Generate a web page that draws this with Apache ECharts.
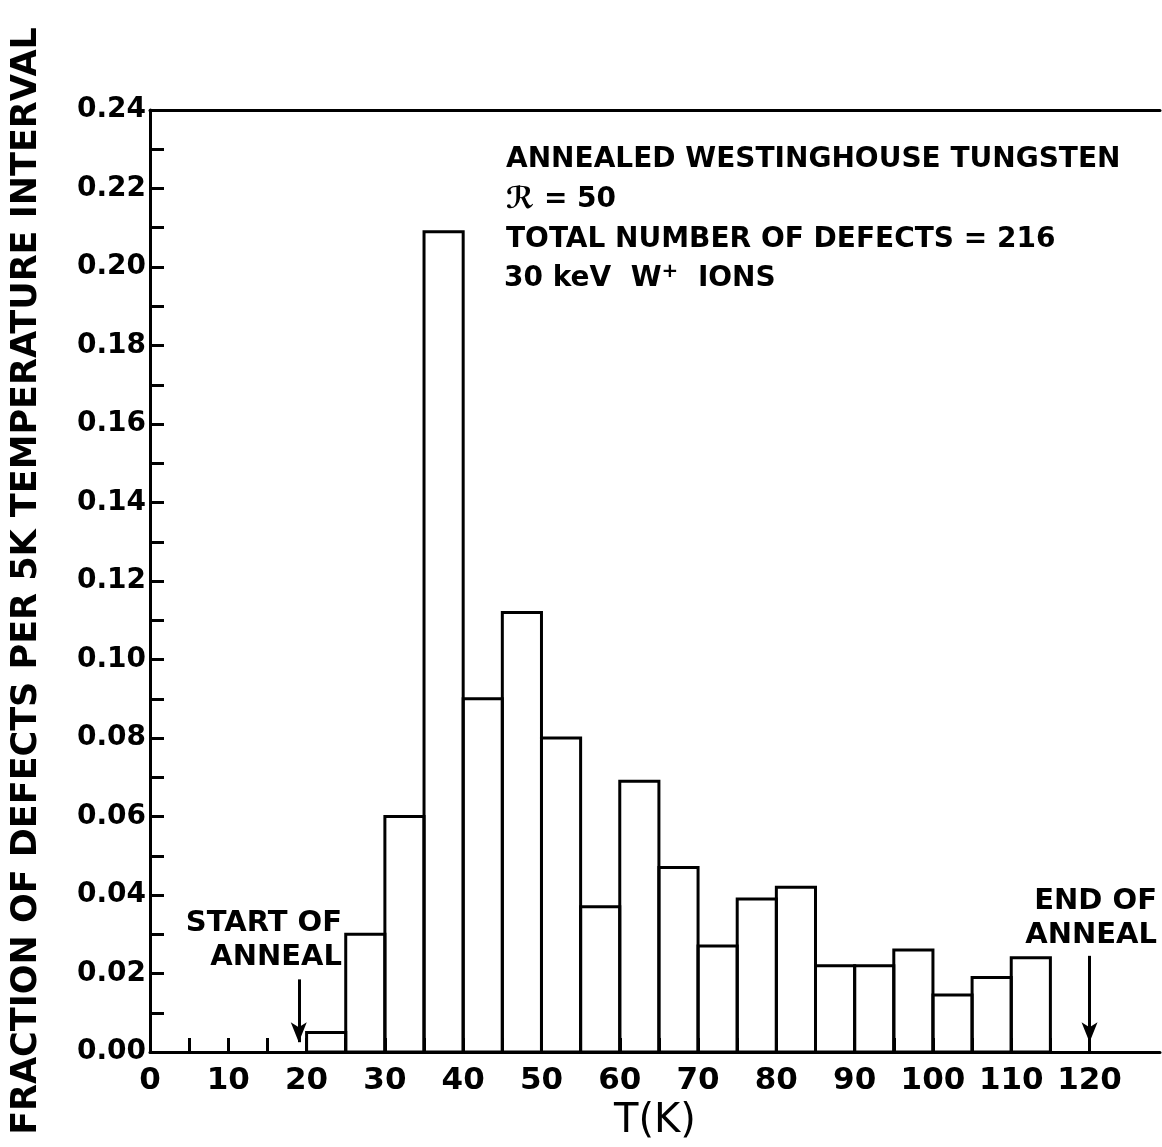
<!DOCTYPE html>
<html>
<head>
<meta charset="utf-8">
<script src="https://cdn.jsdelivr.net/npm/echarts@6/dist/echarts.min.js"></script>
<style>
  html, body { margin: 0; padding: 0; background: #fff; }
  #chart { width: 1162px; height: 1147px; }
</style>
</head>
<body>
<div id="chart"></div>
<script>
// 5 K bins, left edge of each bin (K)
const binStarts = [20, 25, 30, 35, 40, 45, 50, 55, 60, 65, 70, 75, 80, 85, 90, 95, 100, 105, 110];
const binWidth = 5;
// fraction of defects recovering in each bin
const fractions = [0.005, 0.030, 0.060, 0.209, 0.090, 0.112, 0.080, 0.037, 0.069, 0.047,
                   0.027, 0.039, 0.042, 0.022, 0.022, 0.026, 0.0145, 0.019, 0.024];
const xTickValues = [0, 5, 10, 15, 20, 25, 30, 35, 40, 45, 50, 55, 60, 65, 70, 75, 80, 85, 90, 95, 100, 105, 110, 115, 120];
const xLabelValues = [0, 10, 20, 30, 40, 50, 60, 70, 80, 90, 100, 110, 120];
const yTicks = ['0.00', '0.02', '0.04', '0.06', '0.08', '0.10', '0.12', '0.14', '0.16', '0.18', '0.20', '0.22', '0.24'];
const startAnneal = 19;
const endAnneal = 120;

const FONT = 'DejaVu Sans';
const INK = '#000';

const bins = binStarts.map((s, i) => [s, s + binWidth, fractions[i]]);

const chart = echarts.init(document.getElementById('chart'));

const tickStyle = { color: INK, width: 3 };

chart.setOption({
  backgroundColor: '#fff',
  animation: false,
  grid: { left: 150, top: 110, right: 2, bottom: 94 },
  xAxis: [{
    type: 'value',
    min: 0, max: 129,
    name: 'T(K)',
    nameLocation: 'middle',
    nameGap: 50,
    nameTextStyle: { fontFamily: FONT, fontSize: 40, color: INK },
    axisLine: { lineStyle: { color: INK, width: 3 } },
    axisTick: { show: true, inside: true, length: 14, lineStyle: tickStyle, customValues: xTickValues },
    splitLine: { show: false },
    axisLabel: {
      fontFamily: FONT, fontSize: 31, fontWeight: 'bold', color: INK, margin: 13,
      customValues: xLabelValues
    }
  }, {
    // top frame line only
    type: 'value', position: 'top', min: 0, max: 129,
    axisLine: { show: true, lineStyle: { color: INK, width: 3 } },
    axisTick: { show: false }, axisLabel: { show: false }, splitLine: { show: false }
  }],
  yAxis: {
    type: 'value',
    min: 0, max: 0.24, interval: 0.02,
    name: 'FRACTION OF DEFECTS PER 5K TEMPERATURE INTERVAL',
    nameLocation: 'middle',
    nameGap: 106,
    nameTextStyle: { fontFamily: FONT, fontSize: 35, fontWeight: 'bold', color: INK },
    axisLine: { show: true, lineStyle: { color: INK, width: 3 } },
    axisTick: { show: true, inside: true, length: 14, lineStyle: tickStyle },
    minorTick: { show: true, splitNumber: 2, length: 14, lineStyle: tickStyle },
    splitLine: { show: false },
    axisLabel: {
      fontFamily: FONT, fontSize: 28, fontWeight: 'bold', color: INK, margin: 4,
      formatter: v => yTicks[Math.round(v / 0.02)]
    }
  },
  series: [{
    type: 'custom',
    data: bins,
    encode: { x: [0, 1], y: 2 },
    renderItem: (params, api) => {
      const p0 = api.coord([api.value(0), 0]);
      const p1 = api.coord([api.value(1), api.value(2)]);
      return {
        type: 'rect',
        shape: { x: p0[0], y: p1[1], width: p1[0] - p0[0], height: p0[1] - p1[1] },
        style: { fill: 'none', stroke: INK, lineWidth: 3 }
      };
    },
    markLine: {
      silent: true,
      symbol: ['none', 'arrow'],
      symbolSize: [12, 20],
      label: { show: false },
      lineStyle: { color: INK, width: 3, type: 'solid' },
      data: [
        [{ coord: [startAnneal, 0.0185] }, { coord: [startAnneal, 0.0025] }],
        [{ coord: [endAnneal, 0.0245] }, { coord: [endAnneal, 0.0025] }]
      ]
    }
  }],
  graphic: [
    {
      type: 'text', x: 506, y: 146,
      style: {
        text: 'ANNEALED WESTINGHOUSE TUNGSTEN',
        font: 'bold 28px "DejaVu Sans"', fill: INK
      }
    },
    {
      type: 'text', x: 506, y: 185,
      style: {
        text: '{r|ℛ}{n| = 50}',
        rich: {
          r: { fontFamily: FONT, fontSize: 30, fontWeight: 'bold', fontStyle: 'italic', color: INK },
          n: { fontFamily: FONT, fontSize: 28, fontWeight: 'bold', color: INK }
        }
      }
    },
    {
      type: 'text', x: 506, y: 226,
      style: {
        text: 'TOTAL NUMBER OF DEFECTS = 216',
        font: 'bold 28px "DejaVu Sans"', fill: INK
      }
    },
    {
      type: 'text', x: 504, y: 262,
      style: {
        text: '{n|30 keV  W}{s|+}{n|  IONS}',
        rich: {
          n: { fontFamily: FONT, fontSize: 28, fontWeight: 'bold', color: INK },
          s: { fontFamily: FONT, fontSize: 20, fontWeight: 'bold', color: INK, verticalAlign: 'top', padding: [0, 0, 14, 0] }
        }
      }
    },
    {
      type: 'text', x: 342, y: 906,
      style: {
        text: 'START OF\nANNEAL', align: 'right', verticalAlign: 'top',
        font: 'bold 29px "DejaVu Sans"', fill: INK, lineHeight: 34
      }
    },
    {
      type: 'text', x: 1157, y: 884,
      style: {
        text: 'END OF\nANNEAL', align: 'right', verticalAlign: 'top',
        font: 'bold 29px "DejaVu Sans"', fill: INK, lineHeight: 34
      }
    }
  ]
});
</script>
</body>
</html>
